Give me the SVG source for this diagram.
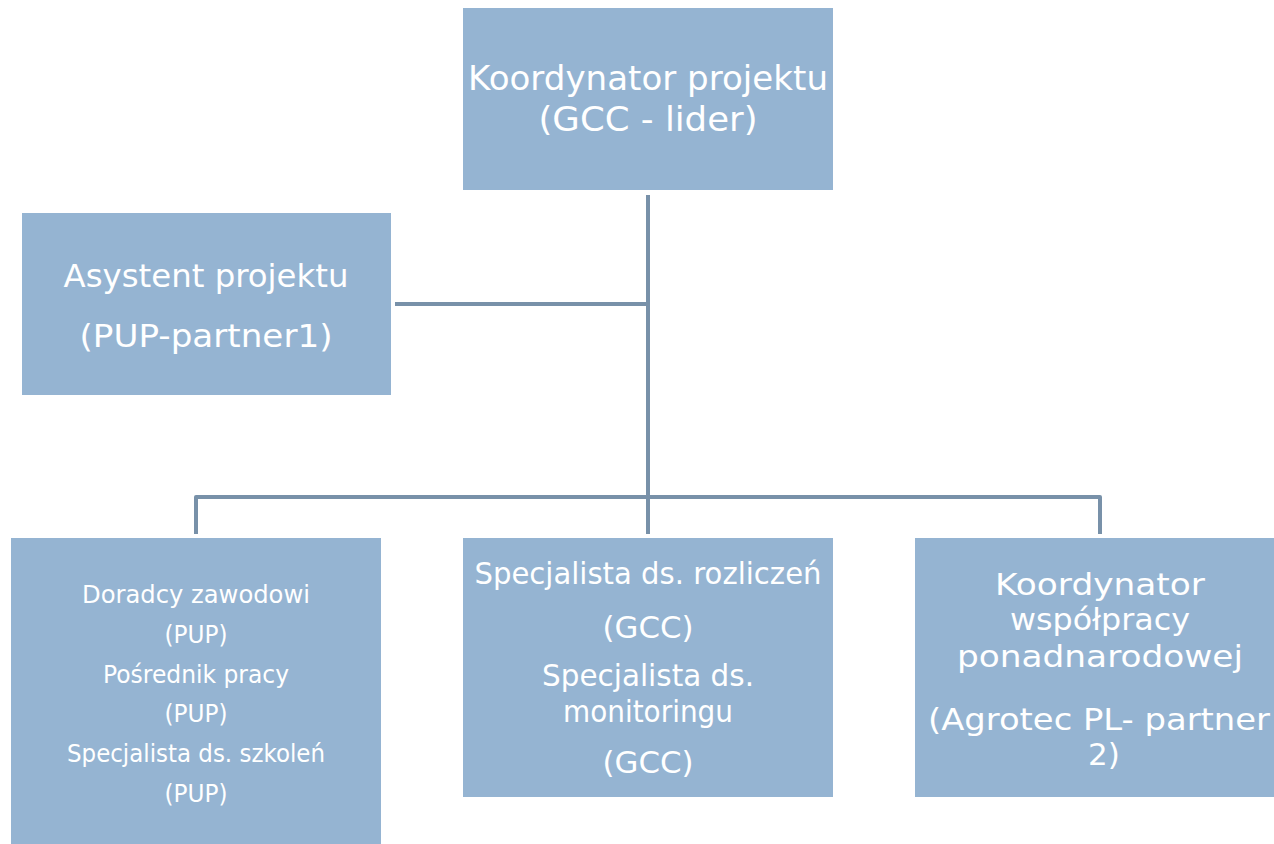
<svg xmlns="http://www.w3.org/2000/svg" width="1274" height="844" viewBox="0 0 1274 844">
<style>
.box{fill:#95B4D2}
.t{font-family:"DejaVu Sans","Liberation Sans",sans-serif;fill:#FFFFFF;text-anchor:middle}
.l{font-size:34px}
.r{font-size:31px}
.m{font-size:30px}
.a{font-size:32px}
.s{font-size:24px}
.c{fill:none;stroke:#7891A9;stroke-width:4;stroke-linejoin:round}
</style>
<rect width="1274" height="844" fill="#FFFFFF"/>
<g id="connectors">
<path class="c" d="M648,195 V534"/>
<path class="c" d="M395,304 H648"/>
<path class="c" d="M196,534 V497 H1100 V534"/>
</g>
<g id="koordynator-projektu">
<rect class="box" x="463" y="8" width="370" height="182"/>
<text class="t l" x="648" y="90" textLength="360" lengthAdjust="spacingAndGlyphs">Koordynator projektu</text>
<text class="t l" x="648" y="131" textLength="219" lengthAdjust="spacingAndGlyphs">(GCC - lider)</text>
</g>
<g id="asystent-projektu">
<rect class="box" x="22" y="213" width="369" height="182"/>
<text class="t a" x="206" y="287" textLength="285" lengthAdjust="spacingAndGlyphs">Asystent projektu</text>
<text class="t a" x="206" y="347" textLength="253" lengthAdjust="spacingAndGlyphs">(PUP-partner1)</text>
</g>
<g id="doradcy">
<rect class="box" x="11" y="538" width="370" height="306"/>
<text class="t s" x="196" y="603" textLength="228" lengthAdjust="spacingAndGlyphs">Doradcy zawodowi</text>
<text class="t s" x="196" y="643" textLength="63" lengthAdjust="spacingAndGlyphs">(PUP)</text>
<text class="t s" x="196" y="683" textLength="186" lengthAdjust="spacingAndGlyphs">Pośrednik pracy</text>
<text class="t s" x="196" y="722" textLength="63" lengthAdjust="spacingAndGlyphs">(PUP)</text>
<text class="t s" x="196" y="762" textLength="258" lengthAdjust="spacingAndGlyphs">Specjalista ds. szkoleń</text>
<text class="t s" x="196" y="802" textLength="63" lengthAdjust="spacingAndGlyphs">(PUP)</text>
</g>
<g id="specjalista">
<rect class="box" x="463" y="538" width="370" height="259"/>
<text class="t m" x="648" y="584" textLength="347" lengthAdjust="spacingAndGlyphs">Specjalista ds. rozliczeń</text>
<text class="t m" x="648" y="638" textLength="91" lengthAdjust="spacingAndGlyphs">(GCC)</text>
<text class="t m" x="648" y="686" textLength="212" lengthAdjust="spacingAndGlyphs">Specjalista ds.</text>
<text class="t m" x="648" y="722" textLength="170" lengthAdjust="spacingAndGlyphs">monitoringu</text>
<text class="t m" x="648" y="773" textLength="91" lengthAdjust="spacingAndGlyphs">(GCC)</text>
</g>
<g id="koordynator-wspolpracy">
<rect class="box" x="915" y="538" width="370" height="259"/>
<text class="t r" x="1100" y="595" textLength="210" lengthAdjust="spacingAndGlyphs">Koordynator</text>
<text class="t r" x="1100" y="630" textLength="180" lengthAdjust="spacingAndGlyphs">współpracy</text>
<text class="t r" x="1100" y="667" textLength="286" lengthAdjust="spacingAndGlyphs">ponadnarodowej</text>
<text class="t r" x="1099" y="730" textLength="342" lengthAdjust="spacingAndGlyphs">(Agrotec PL- partner</text>
<text class="t r" x="1104" y="765">2)</text>
</g>
</svg>
